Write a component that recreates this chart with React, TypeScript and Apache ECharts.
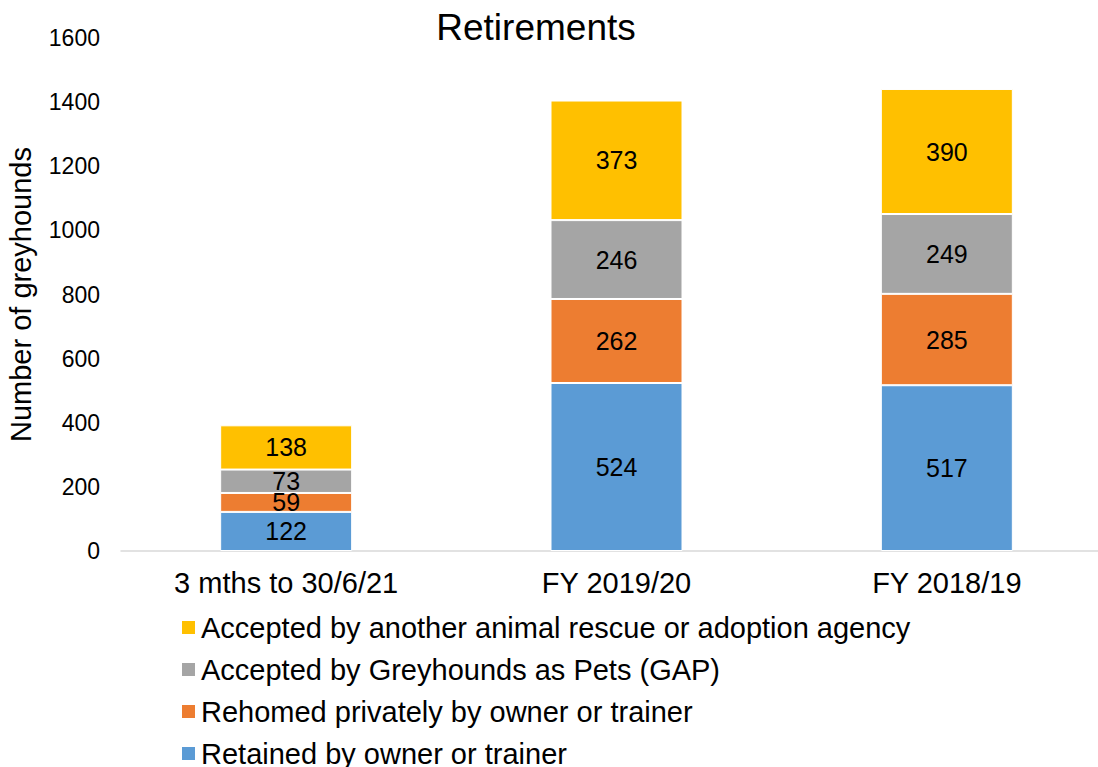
import React, { useEffect, useRef } from "react";
import * as echarts from "echarts";

const categories = ["3 mths to 30/6/21", "FY 2019/20", "FY 2018/19"];
const retained = [122, 524, 517];
const rehomed = [59, 262, 285];
const gap = [73, 246, 249];
const agency = [138, 373, 390];
const seriesNames = [
  "Retained by owner or trainer",
  "Rehomed privately by owner or trainer",
  "Accepted by Greyhounds as Pets (GAP)",
  "Accepted by another animal rescue or adoption agency",
];
const colors = ["#5B9BD5", "#ED7D31", "#A5A5A5", "#FFC000"];
const yTicks = { min: 0, max: 1600, interval: 200 };

export default function App() {
  const ref = useRef<HTMLDivElement>(null);
  useEffect(() => {
    if (!ref.current) return;
    const chart = echarts.init(ref.current, undefined, { renderer: "svg" });
    const font = "Liberation Sans, Arial, sans-serif";
    const values = [retained, rehomed, gap, agency];
    chart.setOption({
      animation: false,
      textStyle: { fontFamily: font },
      title: {
        text: "Retirements",
        left: 536,
        textAlign: "center",
        top: 9,
        padding: 0,
        textStyle: { fontSize: 37, fontWeight: "normal", color: "#000", fontFamily: font },
      },
      grid: {
        left: 121,
        width: 991,
        top: 38,
        height: 513,
        containLabel: false,
        outerBoundsMode: "none",
      },
      legend: {
        orient: "vertical",
        left: 180,
        top: 613,
        height: 200,
        padding: 0,
        itemWidth: 15,
        itemHeight: 15,
        itemGap: 13,
        icon: "rect",
        textStyle: { fontSize: 29, lineHeight: 28, color: "#000", fontFamily: font },
        data: [seriesNames[3], seriesNames[2], seriesNames[1], seriesNames[0]],
      },
      xAxis: {
        type: "category",
        data: categories,
        axisLine: { lineStyle: { color: "#D9D9D9", width: 1.5 } },
        axisTick: { show: false },
        axisLabel: { fontSize: 29, color: "#000", margin: 17, fontFamily: font },
      },
      yAxis: {
        type: "value",
        min: yTicks.min,
        max: yTicks.max,
        interval: yTicks.interval,
        name: "Number of greyhounds",
        nameLocation: "middle",
        nameGap: 86,
        nameTextStyle: { fontSize: 29, color: "#000", fontFamily: font },
        splitLine: { show: false },
        axisLine: { show: false },
        axisTick: { show: false },
        axisLabel: {
          fontSize: 23,
          color: "#000",
          margin: 21,
          fontFamily: font,
          formatter: (v: number) => String(v),
        },
      },
      series: seriesNames.map((name, i) => ({
        name,
        type: "bar",
        stack: "total",
        barWidth: 132,
        data: values[i],
        itemStyle: { color: colors[i], borderColor: "#fff", borderWidth: 1 },
        label: {
          show: true,
          position: "inside",
          fontSize: 25,
          color: "#000",
          fontFamily: font,
        },
      })),
    });
    return () => chart.dispose();
  }, []);
  return <div ref={ref} style={{ width: 1098, height: 767, position: "absolute", left: 0, top: 0 }} />;
}
